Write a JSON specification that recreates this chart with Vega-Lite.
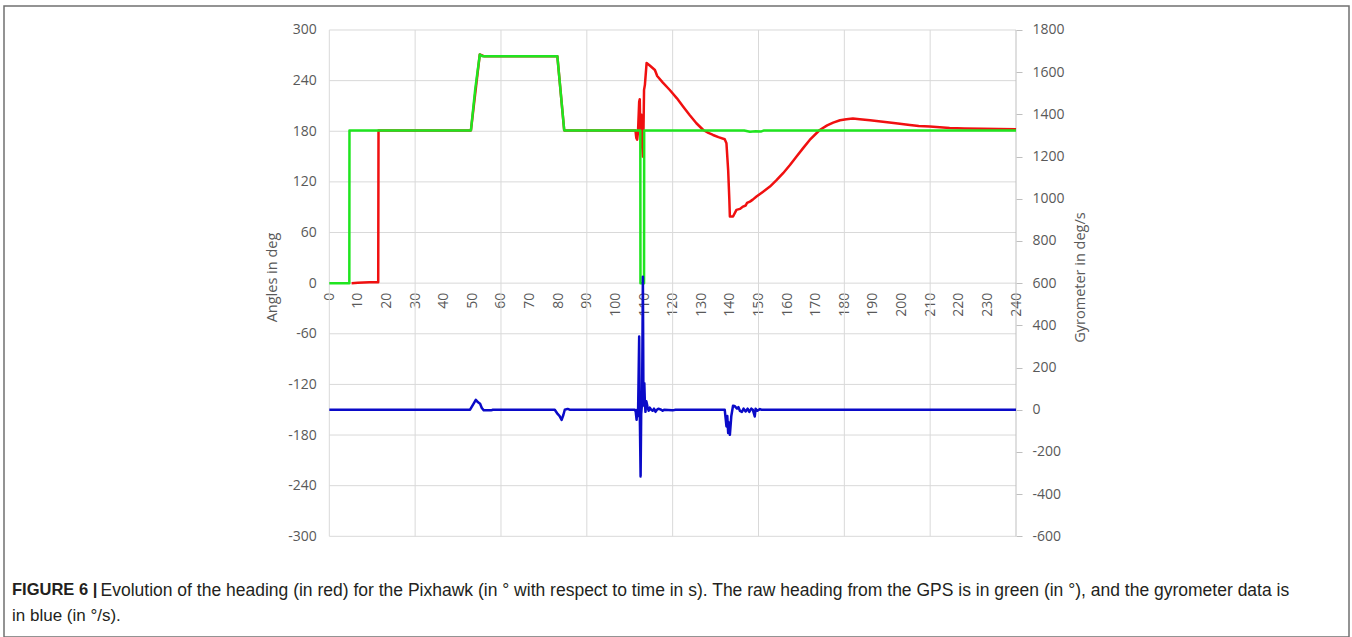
{
  "$schema": "https://vega.github.io/schema/vega-lite/v6.json",
  "width": 1345,
  "height": 631,
  "autosize": {"type": "none"},
  "padding": {"left": 4, "top": 6, "right": 3, "bottom": 0},
  "background": "white",
  "config": {
    "view": {"stroke": "#707070", "strokeWidth": 1.5},
    "font": "Open Sans"
  },
  "title": {
    "text": "FIGURE 6 |",
    "subtitle": "in blue (in °/s).",
    "orient": "bottom",
    "anchor": "start",
    "frame": "group",
    "offset": -55,
    "dx": 8,
    "font": "Liberation Sans",
    "fontSize": 16.5,
    "fontWeight": "bold",
    "color": "#231f20",
    "subtitleFont": "Liberation Sans",
    "subtitleFontSize": 17,
    "subtitleFontWeight": "normal",
    "subtitleColor": "#231f20",
    "subtitlePadding": 9
  },
  "datasets": {
    "grid": [
      {"t": 0, "t2": 240, "a": -300, "a2": -300},
      {"t": 0, "t2": 240, "a": -240, "a2": -240},
      {"t": 0, "t2": 240, "a": -180, "a2": -180},
      {"t": 0, "t2": 240, "a": -120, "a2": -120},
      {"t": 0, "t2": 240, "a": -60, "a2": -60},
      {"t": 0, "t2": 240, "a": 0, "a2": 0},
      {"t": 0, "t2": 240, "a": 60, "a2": 60},
      {"t": 0, "t2": 240, "a": 120, "a2": 120},
      {"t": 0, "t2": 240, "a": 180, "a2": 180},
      {"t": 0, "t2": 240, "a": 240, "a2": 240},
      {"t": 0, "t2": 240, "a": 300, "a2": 300},
      {"t": 0, "t2": 0, "a": -300, "a2": 300},
      {"t": 30, "t2": 30, "a": -300, "a2": 300},
      {"t": 60, "t2": 60, "a": -300, "a2": 300},
      {"t": 90, "t2": 90, "a": -300, "a2": 300},
      {"t": 120, "t2": 120, "a": -300, "a2": 300},
      {"t": 150, "t2": 150, "a": -300, "a2": 300},
      {"t": 180, "t2": 180, "a": -300, "a2": 300},
      {"t": 210, "t2": 210, "a": -300, "a2": 300}
    ],
    "axisline": [
      {"t": 240, "t2": 240, "a": -300, "a2": 300}
    ],
    "red": [
      {"t": 7.8, "a": 0}, {"t": 10, "a": 0.5}, {"t": 14, "a": 1}, {"t": 17.1, "a": 1},
      {"t": 17.2, "a": 181}, {"t": 49.5, "a": 181}, {"t": 52.6, "a": 271}, {"t": 54, "a": 269},
      {"t": 79.7, "a": 269}, {"t": 82.1, "a": 181}, {"t": 107, "a": 181}, {"t": 107.3, "a": 172},
      {"t": 107.6, "a": 170}, {"t": 107.9, "a": 180}, {"t": 108.3, "a": 215}, {"t": 108.5, "a": 218},
      {"t": 108.7, "a": 180}, {"t": 109.0, "a": 200}, {"t": 109.3, "a": 165}, {"t": 109.6, "a": 150},
      {"t": 109.8, "a": 180}, {"t": 110.0, "a": 229}, {"t": 110.3, "a": 235}, {"t": 110.9, "a": 261},
      {"t": 112, "a": 258}, {"t": 113.8, "a": 252.6}, {"t": 114.6, "a": 245.5}, {"t": 116.5, "a": 238},
      {"t": 119, "a": 228.9}, {"t": 121.5, "a": 219}, {"t": 123.7, "a": 209.1}, {"t": 126, "a": 199},
      {"t": 128.3, "a": 189.5}, {"t": 130.7, "a": 181.5}, {"t": 132.5, "a": 178}, {"t": 134.1, "a": 175.6},
      {"t": 136, "a": 173}, {"t": 138.2, "a": 170.5}, {"t": 138.8, "a": 165.8}, {"t": 139.4, "a": 134},
      {"t": 139.8, "a": 100}, {"t": 140.0, "a": 79}, {"t": 141.1, "a": 79}, {"t": 142.3, "a": 86.8},
      {"t": 143.5, "a": 88}, {"t": 144.6, "a": 90.7}, {"t": 145.5, "a": 92}, {"t": 146, "a": 95},
      {"t": 147, "a": 96.6}, {"t": 148, "a": 99}, {"t": 149.3, "a": 102.6}, {"t": 151.5, "a": 108},
      {"t": 154, "a": 114.4}, {"t": 156.3, "a": 122}, {"t": 158.6, "a": 130.3}, {"t": 161, "a": 140},
      {"t": 163.3, "a": 150}, {"t": 165.6, "a": 160}, {"t": 167.9, "a": 169.7}, {"t": 171.4, "a": 181.5},
      {"t": 174, "a": 187}, {"t": 176.1, "a": 190.2}, {"t": 178.5, "a": 193}, {"t": 180.7, "a": 194.2},
      {"t": 183, "a": 195}, {"t": 185.4, "a": 194.2}, {"t": 189, "a": 193}, {"t": 193.5, "a": 191.4},
      {"t": 198, "a": 189.5}, {"t": 202.9, "a": 187.5}, {"t": 206, "a": 186.3}, {"t": 209.9, "a": 185.5},
      {"t": 216.8, "a": 183.9}, {"t": 222, "a": 183.4}, {"t": 228.5, "a": 183.1}, {"t": 234, "a": 182.6},
      {"t": 240, "a": 182.3}
    ],
    "green": [
      {"t": 0, "a": 0}, {"t": 7.0, "a": 0}, {"t": 7.05, "a": 181}, {"t": 49.5, "a": 181},
      {"t": 51, "a": 230}, {"t": 52.6, "a": 271}, {"t": 53.5, "a": 269}, {"t": 79.7, "a": 269},
      {"t": 82.1, "a": 181}, {"t": 108.7, "a": 181}, {"t": 108.75, "a": 0}, {"t": 110.0, "a": 0},
      {"t": 110.05, "a": 181}, {"t": 145, "a": 181}, {"t": 147, "a": 179.5}, {"t": 149, "a": 180},
      {"t": 151, "a": 179.8}, {"t": 152, "a": 181}, {"t": 240, "a": 181}
    ],
    "gyro": [
      {"t": 0, "g": 0}, {"t": 49.2, "g": 0}, {"t": 50.5, "g": 30}, {"t": 51.2, "g": 47},
      {"t": 52, "g": 35}, {"t": 52.7, "g": 28}, {"t": 53.3, "g": 8}, {"t": 54, "g": -3},
      {"t": 56.5, "g": -3}, {"t": 57.2, "g": 0}, {"t": 78.8, "g": 0}, {"t": 79.8, "g": -20},
      {"t": 80.5, "g": -30}, {"t": 81.2, "g": -48}, {"t": 81.8, "g": -25}, {"t": 82.3, "g": 0},
      {"t": 83.3, "g": 4}, {"t": 84, "g": 0}, {"t": 106.8, "g": 0}, {"t": 107.1, "g": -10},
      {"t": 107.4, "g": -48}, {"t": 107.6, "g": 0}, {"t": 107.9, "g": -30}, {"t": 108.3, "g": 347},
      {"t": 108.5, "g": 0}, {"t": 108.8, "g": -316}, {"t": 109.0, "g": -20}, {"t": 109.3, "g": 30},
      {"t": 109.6, "g": 630}, {"t": 109.8, "g": 20}, {"t": 110.1, "g": 126}, {"t": 110.3, "g": 30},
      {"t": 110.5, "g": -10}, {"t": 110.8, "g": 40}, {"t": 111.2, "g": 15}, {"t": 111.6, "g": -5},
      {"t": 112, "g": 10}, {"t": 112.5, "g": 0}, {"t": 113, "g": -5}, {"t": 113.5, "g": 5},
      {"t": 114, "g": -10}, {"t": 114.5, "g": 0}, {"t": 115, "g": 5}, {"t": 116, "g": 0},
      {"t": 116.5, "g": -5}, {"t": 117, "g": 0}, {"t": 120, "g": -3}, {"t": 121, "g": 0},
      {"t": 138.2, "g": 0}, {"t": 138.8, "g": -79}, {"t": 139.1, "g": -30}, {"t": 139.4, "g": -110},
      {"t": 139.7, "g": -60}, {"t": 140, "g": -119}, {"t": 140.5, "g": -30}, {"t": 141.1, "g": 19},
      {"t": 141.6, "g": 18}, {"t": 142.5, "g": 5}, {"t": 143, "g": 12}, {"t": 143.5, "g": -5},
      {"t": 144.2, "g": -10}, {"t": 144.8, "g": 5}, {"t": 145.5, "g": -8}, {"t": 146.2, "g": 5},
      {"t": 146.8, "g": -10}, {"t": 147.5, "g": 5}, {"t": 148, "g": 0}, {"t": 148.7, "g": -32},
      {"t": 149, "g": 5}, {"t": 149.6, "g": -5}, {"t": 150.5, "g": 3}, {"t": 151, "g": 0},
      {"t": 240, "g": 0}
    ]
  },
  "encoding": {
    "x": {
      "field": "t",
      "type": "quantitative",
      "scale": {"domain": [-113.69, 356.38], "nice": false, "zero": false},
      "axis": {
        "orient": "bottom",
        "offset": -353.7,
        "values": [0, 10, 20, 30, 40, 50, 60, 70, 80, 90, 100, 110, 120, 130, 140, 150, 160, 170, 180, 190, 200, 210, 220, 230, 240],
        "labelExpr": "'' + datum.value",
        "labelAngle": 270,
        "labelAlign": "right",
        "labelBaseline": "middle",
        "labelFontSize": 14,
        "labelColor": "#595959",
        "labelPadding": 9,
        "labelOverlap": false,
        "labelFlush": false,
        "ticks": false,
        "tickSize": 0,
        "domain": false,
        "grid": false,
        "title": "Evolution of the heading (in red) for the Pixhawk (in ° with respect to time in s). The raw heading from the GPS is in green (in °), and the gyrometer data is",
        "titleX": 96,
        "titleY": 312,
        "titleAngle": 0,
        "titleAlign": "left",
        "titleBaseline": "alphabetic",
        "titleFont": "Liberation Sans",
        "titleFontSize": 17.5,
        "titleFontWeight": "normal",
        "titleColor": "#231f20"
      }
    }
  },
  "layer": [
    {
      "encoding": {
        "y": {
          "field": "a",
          "type": "quantitative",
          "scale": {"domain": [-419.34, 328.44], "nice": false, "zero": false},
          "axis": {
            "orient": "left",
            "offset": -325.3,
            "values": [-300, -240, -180, -120, -60, 0, 60, 120, 180, 240, 300],
            "labelExpr": "'' + datum.value",
            "labelFontSize": 14,
            "labelColor": "#595959",
            "labelPadding": 13,
            "labelFlush": false,
            "labelOverlap": false,
            "ticks": false,
            "tickSize": 0,
            "domain": false,
            "grid": false,
            "title": "Angles in deg",
            "titleX": -53,
            "titleY": 271,
            "titleAngle": 270,
            "titleAlign": "center",
            "titleBaseline": "alphabetic",
            "titleFontSize": 14.5,
            "titleFontWeight": "normal",
            "titleColor": "#595959"
          }
        }
      },
      "layer": [
        {
          "data": {"name": "grid"},
          "mark": {"type": "rule", "color": "#d9d9d9", "strokeWidth": 1},
          "encoding": {"x2": {"field": "t2"}, "y2": {"field": "a2"}}
        },
        {
          "data": {"name": "axisline"},
          "mark": {"type": "rule", "color": "#bfbfbf", "strokeWidth": 1},
          "encoding": {"x2": {"field": "t2"}, "y2": {"field": "a2"}}
        },
        {
          "data": {"name": "red"},
          "mark": {"type": "line", "color": "#f01010", "strokeWidth": 2.5, "strokeJoin": "round"},
          "encoding": {}
        },
        {
          "data": {"name": "green"},
          "mark": {"type": "line", "color": "#1fe51f", "strokeWidth": 2.5, "strokeJoin": "round"},
          "encoding": {}
        }
      ]
    },
    {
      "data": {"name": "gyro"},
      "mark": {"type": "line", "color": "#0a0ac8", "strokeWidth": 2.5, "strokeJoin": "round"},
      "encoding": {
        "y": {
          "field": "g",
          "type": "quantitative",
          "scale": {"domain": [-1077.36, 1913.76], "nice": false, "zero": false},
          "axis": {
            "orient": "right",
            "offset": -333,
            "values": [-600, -400, -200, 0, 200, 400, 600, 800, 1000, 1200, 1400, 1600, 1800],
            "labelExpr": "'' + datum.value",
            "labelFontSize": 14,
            "labelColor": "#595959",
            "labelPadding": 10,
            "labelFlush": false,
            "labelOverlap": false,
            "ticks": true,
            "tickSize": 6,
            "tickColor": "#bfbfbf",
            "domain": false,
            "grid": false,
            "title": "Gyrometer in deg/s",
            "titleX": 68,
            "titleY": 271,
            "titleAngle": 270,
            "titleAlign": "center",
            "titleBaseline": "alphabetic",
            "titleFontSize": 14.5,
            "titleFontWeight": "normal",
            "titleColor": "#595959"
          }
        }
      }
    }
  ],
  "resolve": {"scale": {"y": "independent"}, "axis": {"y": "independent"}}
}
